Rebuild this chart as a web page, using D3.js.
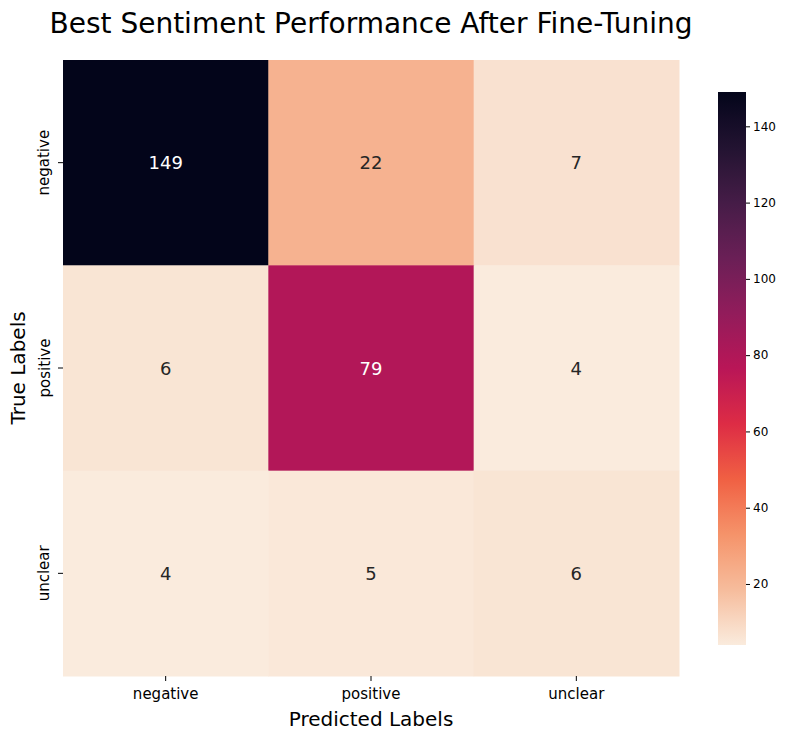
<!DOCTYPE html>
<html><head><meta charset="utf-8">
<script src="https://cdn.jsdelivr.net/npm/d3@7"></script>
<style>body{margin:0;background:#fff;font-family:"DejaVu Sans",sans-serif}</style>
</head><body><svg id="c" width="791" height="740"></svg>
<script>
const predLabels = ["negative","positive","unclear"];
const trueLabels = ["negative","positive","unclear"];
const matrix = [[149,22,7],[6,79,4],[4,5,6]];
const cbTicks = [20,40,60,80,100,120,140];

const svg = d3.select("#c");
const rocket = ["#03051A","#221331","#451C47","#6A1F56","#921C5B","#B91657","#DD2C45","#F06043","#F5936A","#F6BC9C","#FAEBDD"];
const interp = d3.piecewise(d3.interpolateRgb, rocket.slice().reverse());
const vals = matrix.flat();
const vmin = d3.min(vals), vmax = d3.max(vals);
const color = v => interp((v - vmin) / (vmax - vmin));

const x = d3.scaleBand().domain(predLabels).range([63,679]);
const y = d3.scaleBand().domain(trueLabels).range([60,676]);

svg.append("text").attr("x",371).attr("y",33).attr("text-anchor","middle")
  .attr("font-size",28).text("Best Sentiment Performance After Fine-Tuning");

const cells = [];
matrix.forEach((row,i)=>row.forEach((v,j)=>cells.push({r:trueLabels[i],c:predLabels[j],v})));
svg.selectAll("rect.cell").data(cells).join("rect")
  .attr("x",d=>x(d.c)).attr("y",d=>y(d.r)).attr("width",x.bandwidth()+0.5).attr("height",y.bandwidth()+0.5)
  .attr("fill",d=>color(d.v));
svg.selectAll("text.val").data(cells).join("text")
  .attr("x",d=>x(d.c)+x.bandwidth()/2).attr("y",d=>y(d.r)+y.bandwidth()/2)
  .attr("text-anchor","middle").attr("dominant-baseline","central").attr("font-size",18)
  .attr("fill",d=>(d.v-vmin)/(vmax-vmin)>0.4?"#ffffff":"#262626").text(d=>d.v);

const xa = svg.append("g").attr("transform","translate(0,676)").call(d3.axisBottom(x).tickSize(5));
xa.select(".domain").remove();
xa.selectAll("text").attr("font-size",15).attr("font-family","DejaVu Sans").attr("dy","1em").attr("fill","#000");
const ya = svg.append("g").attr("transform","translate(63,0)").call(d3.axisLeft(y).tickSize(5));
ya.select(".domain").remove();
ya.selectAll("text").attr("font-size",15).attr("font-family","DejaVu Sans").attr("fill","#000")
  .attr("transform",d=>`rotate(-90,-9,${y(d)+y.bandwidth()/2})`)
  .attr("x",-9).attr("y",y.bandwidth()/2).attr("dy","-0.3em").attr("text-anchor","middle");
ya.selectAll(".tick").attr("transform","translate(0,0)");
ya.selectAll(".tick line").attr("y1",d=>y(d)+y.bandwidth()/2).attr("y2",d=>y(d)+y.bandwidth()/2);
ya.selectAll(".tick text").attr("transform",d=>`rotate(-90,-9,${y(d)+y.bandwidth()/2})`).attr("y",d=>y(d)+y.bandwidth()/2);

svg.append("text").attr("x",371).attr("y",726).attr("text-anchor","middle").attr("font-size",20).text("Predicted Labels");
svg.append("text").attr("transform","translate(25,368) rotate(-90)").attr("text-anchor","middle").attr("font-size",20).text("True Labels");

// colorbar
const cb = d3.scaleLinear().domain([vmin,vmax]).range([645,92]);
const defs = svg.append("defs");
const g = defs.append("linearGradient").attr("id","gr").attr("x1",0).attr("y1",1).attr("x2",0).attr("y2",0);
d3.range(0,1.001,0.05).forEach(t=>g.append("stop").attr("offset",t).attr("stop-color",interp(t)));
svg.append("rect").attr("x",718).attr("y",92).attr("width",28).attr("height",553).attr("fill","url(#gr)");
const ca = svg.append("g").attr("transform","translate(746,0)").call(d3.axisRight(cb).tickValues(cbTicks).tickSize(4));
ca.select(".domain").remove();
ca.selectAll("text").attr("font-size",12).attr("font-family","DejaVu Sans").attr("fill","#000");
</script></body></html>
